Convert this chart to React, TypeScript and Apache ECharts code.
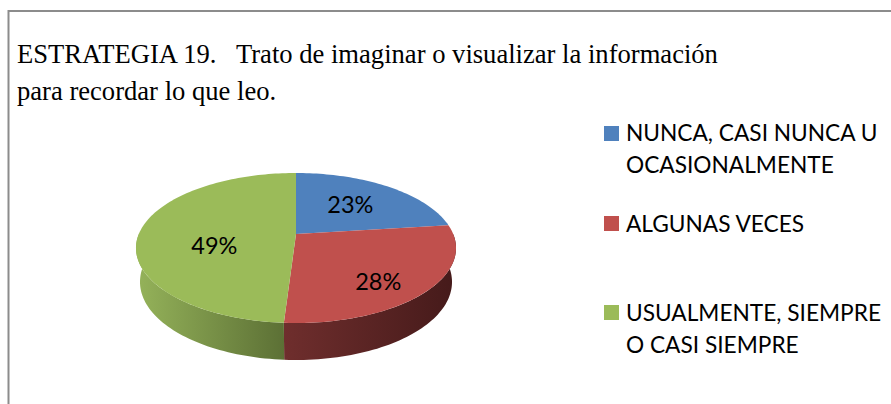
import React, { useEffect, useRef } from "react";
import * as echarts from "echarts";

const categories = ["NUNCA, CASI NUNCA U\nOCASIONALMENTE", "ALGUNAS VECES", "USUALMENTE, SIEMPRE\nO CASI SIEMPRE"];
const values = [23, 28, 49];
const titleLines = ["ESTRATEGIA 19.   Trato de imaginar o visualizar la información", "para recordar lo que leo."];

const topColors = ["#4f81bd", "#c0504d", "#9bbb59"];
const wallColors = [["#4f81bd", "#2c4a70"], ["#6f2e2d", "#451a1a"], ["#95b35a", "#5c7035"]];
const labelTweak = [{ r: 0.58, d: -1.2 }, { r: 0.74, d: 7.7 }, { r: 0.526, d: -18 }];
const legendSquareY = [126, 216, 305];
const legendTextY = [116, 207, 296];

const CX = 296, CY = 234, A = 157.2, S = 72.4, K = 0.1867;
const BOTTOM_SX = 0.975, BOTTOM_SY = 1.04, BOTTOM_DY = 33.4;

const total = values.reduce((a, b) => a + b, 0);
const starts = values.map((_, i) => (values.slice(0, i).reduce((a, b) => a + b, 0) / total) * 360);
const ends = values.map((_, i) => (values.slice(0, i + 1).reduce((a, b) => a + b, 0) / total) * 360);

function project(deg: number, r = 1): [number, number] {
  const t = (deg * Math.PI) / 180;
  const u = r * Math.sin(t), v = -r * Math.cos(t);
  const w = 1 - K * v;
  return [(A * u) / w, (S * v) / w];
}
const topPoint = (deg: number, r = 1): number[] => {
  const [x, y] = project(deg, r);
  return [CX + x, CY + y];
};
const bottomPoint = (deg: number): number[] => {
  const [x, y] = project(deg);
  return [CX + x * BOTTOM_SX, CY + y * BOTTOM_SY + BOTTOM_DY];
};
function arc(a: number, b: number, f: (d: number) => number[]) {
  const n = Math.max(2, Math.ceil((b - a) / 1.5));
  const pts: number[][] = [];
  for (let i = 0; i <= n; i++) pts.push(f(a + ((b - a) * i) / n));
  return pts;
}

const renderWall = (params: any) => {
  const i = params.dataIndex;
  const a = Math.max(starts[i], 90), b = Math.min(ends[i], 270);
  if (b <= a) return { type: "group", children: [] };
  const top = arc(a, b, topPoint);
  const bottom = arc(a, b, bottomPoint).reverse();
  const pts = top.concat(bottom);
  const xs = pts.map((p) => p[0]);
  const x0 = Math.min(...xs), x1 = Math.max(...xs);
  const stops = [{ offset: 0, color: wallColors[i][0] }, { offset: 1, color: wallColors[i][1] }];
  return {
    type: "polygon",
    shape: { points: pts },
    style: {
      fill: { type: "linear", x: x0, y: 0, x2: x1, y2: 0, global: true, colorStops: stops },
    },
  };
};

const renderTop = (params: any) => {
  const i = params.dataIndex;
  return {
    type: "polygon",
    shape: { points: [[CX, CY], ...arc(starts[i], ends[i], topPoint)] },
    style: { fill: topColors[i] },
  };
};

const renderLabel = (params: any, api: any) => {
  const i = params.dataIndex;
  const mid = (starts[i] + ends[i]) / 2 + labelTweak[i].d;
  const [x, y] = topPoint(mid, labelTweak[i].r);
  return {
    type: "text", x, y,
    style: {
      text: `${api.value(0)}%`, fill: "#000",
      font: '23.5px "Lato"', align: "center", verticalAlign: "middle",
    },
  };
};

export default function App() {
  const ref = useRef<HTMLDivElement>(null);
  useEffect(() => {
    document.body.style.margin = "0";
    const chart = echarts.init(ref.current!, undefined, { renderer: "svg" });
    const legendGraphics: any[] = [];
    categories.forEach((name, i) => {
      legendGraphics.push({
        type: "rect", shape: { x: 604, y: legendSquareY[i], width: 15, height: 15 },
        style: { fill: topColors[i] },
      });
      legendGraphics.push({
        type: "text", x: 626, y: legendTextY[i],
        style: { text: name, fill: "#000", font: '22.7px "Lato"', lineHeight: 32.5 },
      });
    });
    chart.setOption({
      animation: false,
      backgroundColor: "#fff",
      title: {
        text: titleLines.join("\n"), left: 17, top: 35, padding: 0,
        textStyle: { fontFamily: '"Liberation Serif"', fontSize: 26.6, fontWeight: "normal", color: "#000", lineHeight: 37 },
      },
      graphic: [
        { type: "polyline", shape: { points: [[8.5, 404], [8.5, 11], [891, 11]] }, style: { stroke: "#8c8c8c", lineWidth: 2, fill: "none" } },
        ...legendGraphics,
      ],
      series: [
        { type: "custom", name: "walls", coordinateSystem: "none", z: 2, renderItem: renderWall, data: values, silent: true },
        { type: "custom", name: "tops", coordinateSystem: "none", z: 3, renderItem: renderTop, data: values, silent: true },
        { type: "custom", name: "labels", coordinateSystem: "none", z: 4, renderItem: renderLabel, data: values, silent: true },
      ],
    });
    return () => chart.dispose();
  }, []);
  return <div ref={ref} style={{ position: "absolute", left: 0, top: 0, width: 891, height: 404 }} />;
}
